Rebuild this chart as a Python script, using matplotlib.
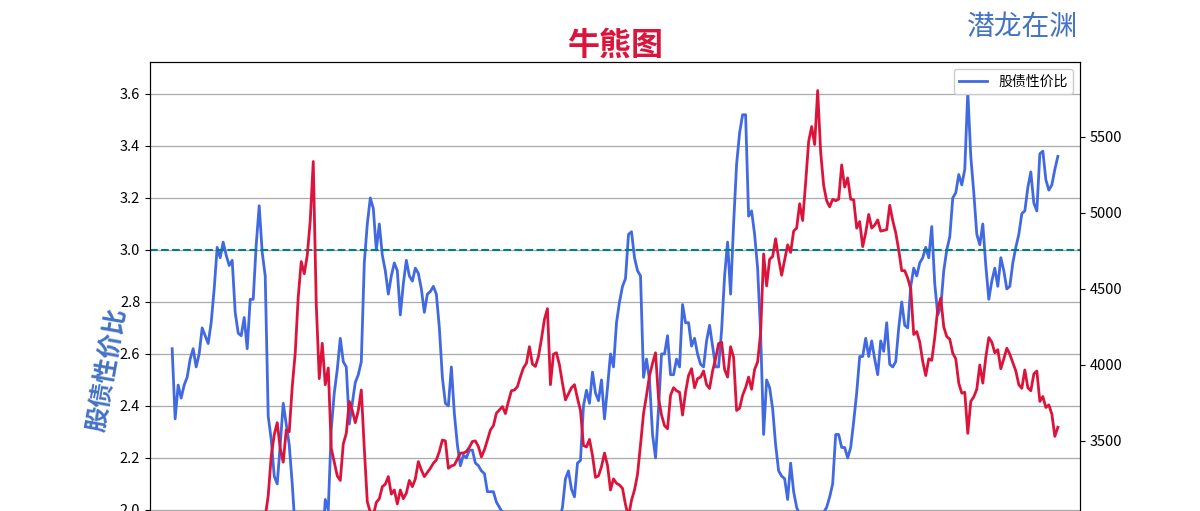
import numpy as np
import pandas as pd
import matplotlib
matplotlib.use("Agg")
import matplotlib.pyplot as plt

plt.rcParams['font.family'] = ['Noto Sans CJK SC', 'DejaVu Sans']
plt.rcParams['axes.unicode_minus'] = False

# ------------------------------------------------------
# Data
# ------------------------------------------------------
title_text = "牛熊图"
brand_text = "潜龙在渊"
ratio_label = "股债性价比"

# 股债性价比 (left axis)
ratio = [
    2.62, 2.35, 2.48, 2.43, 2.48, 2.51, 2.58, 2.62, 2.55, 2.60,
    2.70, 2.67, 2.64, 2.72, 2.85, 3.01, 2.97, 3.03, 2.98, 2.94,
    2.96, 2.76, 2.68, 2.67, 2.74, 2.62, 2.81, 2.81, 3.02, 3.17,
    2.99, 2.90, 2.36, 2.27, 2.13, 2.10, 2.25, 2.41, 2.33, 2.25,
    2.10, 1.92, 1.80, 1.68, 1.57, 1.49, 1.45, 1.47, 1.55, 1.68,
    1.85, 2.04, 2.00, 2.31, 2.45, 2.54, 2.66, 2.57, 2.55, 2.33,
    2.41, 2.49, 2.52, 2.57, 2.95, 3.10, 3.20, 3.16, 3.00, 3.10,
    2.98, 2.92, 2.83, 2.90, 2.95, 2.92, 2.75, 2.87, 2.96, 2.90,
    2.88, 2.93, 2.91, 2.85, 2.76, 2.83, 2.84, 2.86, 2.83, 2.70,
    2.51, 2.41, 2.40, 2.55, 2.37, 2.25, 2.17, 2.21, 2.20, 2.23,
    2.23, 2.18, 2.17, 2.15, 2.14, 2.07, 2.07, 2.07, 2.03, 2.01,
    1.99, 1.96, 1.92, 1.88, 1.84, 1.80, 1.78, 1.74, 1.72, 1.70,
    1.71, 1.72, 1.74, 1.73, 1.76, 1.80, 1.84, 1.88, 1.92, 1.96,
    2.01, 2.12, 2.15, 2.08, 2.05, 2.18, 2.19, 2.40, 2.46, 2.41,
    2.53, 2.45, 2.42, 2.50, 2.35, 2.47, 2.60, 2.55, 2.72, 2.80,
    2.86, 2.89, 3.06, 3.07, 2.97, 2.92, 2.90, 2.51, 2.58, 2.50,
    2.29, 2.20, 2.39, 2.60, 2.60, 2.67, 2.52, 2.52, 2.58, 2.55,
    2.79, 2.72, 2.72, 2.63, 2.66, 2.60, 2.56, 2.55, 2.65, 2.71,
    2.63, 2.55, 2.55, 2.69, 2.90, 3.03, 2.83, 3.10, 3.33, 3.45,
    3.52, 3.52, 3.13, 3.15, 3.06, 2.93, 2.68, 2.29, 2.50, 2.47,
    2.39, 2.25, 2.15, 2.13, 2.12, 2.04, 2.18, 2.07, 2.01, 1.98,
    1.95, 1.93, 1.92, 1.91, 1.92, 1.93, 1.96, 1.99, 2.01, 2.05,
    2.10, 2.29, 2.29, 2.24, 2.24, 2.20, 2.24, 2.34, 2.45, 2.59,
    2.59, 2.66, 2.59, 2.65, 2.58, 2.52, 2.65, 2.61, 2.72, 2.56,
    2.55, 2.57, 2.70, 2.80, 2.71, 2.70, 2.86, 2.93, 2.90, 2.95,
    2.97, 3.01, 2.97, 3.09, 2.87, 2.75, 2.78, 2.92, 3.00, 3.05,
    3.20, 3.22, 3.29, 3.25, 3.31, 3.61, 3.36, 3.22, 3.06, 3.02,
    3.10, 2.94, 2.81, 2.88, 2.93, 2.86, 2.97, 2.92, 2.85, 2.86,
    2.95, 3.01, 3.06, 3.14, 3.15, 3.24, 3.30, 3.18, 3.15, 3.37,
    3.38, 3.27, 3.23, 3.25, 3.31, 3.36,
]

# index level (right axis)
index_close = [
    2380, 2330, 2300, 2280, 2250, 2200, 2180, 2240, 2200, 2150,
    2180, 2160, 2170, 2150, 2120, 2150, 2140, 2160, 2170, 2200,
    2250, 2300, 2330, 2380, 2400, 2440, 2470, 2520, 2600, 2750,
    2900, 3000, 3140, 3400, 3540, 3620, 3450, 3360, 3572, 3560,
    3857, 4080, 4449, 4680, 4600, 4720, 4950, 5338, 4400, 3910,
    4142, 3870, 3980, 3450, 3360, 3270, 3240, 3480, 3550, 3760,
    3700, 3620, 3700, 3835, 3450, 3100, 3030, 3010, 3095, 3120,
    3199, 3215, 3265, 3150, 3177, 3085, 3177, 3120, 3156, 3240,
    3199, 3250, 3364, 3309, 3265, 3292, 3320, 3353, 3375, 3430,
    3506, 3500, 3320, 3335, 3342, 3380, 3420, 3420, 3430, 3458,
    3496, 3500, 3463, 3395, 3441, 3505, 3572, 3600, 3682, 3704,
    3726, 3680, 3759, 3830, 3835, 3857, 3923, 3980, 4011, 4120,
    4005, 3990, 4055, 4170, 4300, 4370, 3870, 4070, 4080, 4000,
    3880, 3770, 3810, 3850, 3870, 3780, 3700, 3470, 3460, 3510,
    3405, 3260, 3270, 3331, 3420, 3340, 3177, 3250, 3221, 3210,
    3188, 3080, 3000, 3110, 3177, 3280, 3474, 3680, 3800, 3930,
    4010, 4080, 3780, 3670, 3600, 3580, 3800, 3850, 3830, 3820,
    3670, 3820, 3930, 3975, 3850, 3910, 3920, 3960, 3870, 3845,
    3960, 4040, 4140, 4150, 3970, 3920, 4120, 4050, 3700, 3715,
    3800, 3850, 3920, 3840, 3970, 4020, 4210, 4730, 4520, 4695,
    4713, 4830, 4700, 4590, 4690, 4790, 4740, 4880, 4900, 5060,
    4950, 5200, 5470, 5568, 5450, 5805, 5400, 5180, 5080, 5040,
    5090, 5080, 5090, 5316, 5170, 5230, 5090, 5086, 4900, 4943,
    4778, 4870, 4990, 4900, 4920, 4954, 4880, 4885, 4890, 5050,
    4950, 4870, 4756, 4620, 4620, 4570, 4500, 4200, 4219, 4150,
    4022, 3930, 4040, 4030, 4180, 4370, 4440, 4250, 4186, 4170,
    4077, 4040, 3880, 3814, 3820, 3550, 3760, 3790, 3840, 4000,
    3880, 4050, 4180, 4150, 4080, 4100, 3975, 4040, 4110, 4070,
    4015, 3960, 3870, 3846, 3967, 3850, 3830, 3940, 3960, 3760,
    3792, 3720, 3737, 3676, 3530, 3590,
]

dates = pd.date_range("2013-12-06", periods=len(ratio), freq="12D")

ratio_threshold = 3.0
left_ticks = [2.0, 2.2, 2.4, 2.6, 2.8, 3.0, 3.2, 3.4, 3.6]
right_ticks = [3500, 4000, 4500, 5000, 5500]

# ------------------------------------------------------
# Plot
# ------------------------------------------------------
fig = plt.figure(figsize=(12, 5.11), dpi=100)
# the picture only shows the upper part of the axes
ax1 = fig.add_axes([0.125, -0.3346, 0.775, 1.2133])
ax2 = ax1.twinx()

ax1.plot(dates, ratio, color='royalblue', lw=2.0, label=ratio_label)
ax1.axhline(ratio_threshold, color='teal', linestyle='--', lw=1.5)
ax2.plot(dates, index_close, color='crimson', lw=2.0)

span = dates[-1] - dates[0]
ax1.set_xlim(dates[0] - span * 0.025, dates[-1] + span * 0.025)
ax1.set_ylim(1.338, 3.723)
ax2.set_ylim(1914, 5993)

ax1.set_yticks(left_ticks)
ax2.set_yticks(right_ticks)
ax1.tick_params(axis='y', labelsize=10.5)
ax2.tick_params(axis='y', labelsize=10.5)
ax1.tick_params(axis='x', labelbottom=False)
ax1.grid(axis='y', color='#aaaaaa', lw=0.9)

ax1.set_ylabel(ratio_label, color='#4472C4', fontsize=18, fontweight='bold',
               rotation=80, labelpad=0)
ax1.set_title(title_text, color='crimson', fontsize=23, fontweight='bold', pad=5)
fig.text(0.898, 0.948, brand_text, color='#4472C4', fontsize=20,
         ha='right', va='center')

ax1.legend(loc='upper right', fontsize=10, framealpha=1)

fig.savefig("out.png", dpi=100)
